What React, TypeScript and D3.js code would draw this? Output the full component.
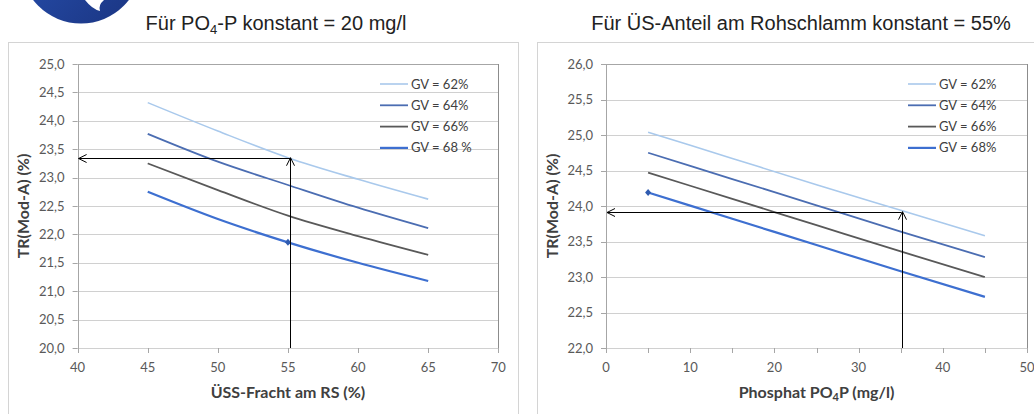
import React from 'react'
import * as d3 from 'd3'

// Left panel: TR over ÜSS-Fracht, PO4-P = 20 mg/l
const leftX = [45, 50, 55, 60, 65]
const leftGV62 = [24.32, 23.82, 23.35, 22.97, 22.62]
const leftGV64 = [23.77, 23.28, 22.87, 22.47, 22.11]
const leftGV66 = [23.25, 22.78, 22.33, 21.97, 21.64]
const leftGV68 = [22.75, 22.27, 21.86, 21.50, 21.18]
const leftMarker = [55, 21.86]
const leftArrow = [55.15, 23.35]

// Right panel: TR over Phosphat, ÜS-Anteil = 55%
const rightX = [5, 15, 25, 35, 45]
const rightGV62 = [25.04, 24.67, 24.30, 23.94, 23.58]
const rightGV64 = [24.75, 24.38, 24.01, 23.64, 23.28]
const rightGV66 = [24.47, 24.10, 23.73, 23.36, 23.00]
const rightGV68 = [24.19, 23.82, 23.45, 23.08, 22.72]
const rightMarker = [5, 24.19]
const rightArrow = [35.1, 23.92]

const leftLegend = ['GV = 62%', 'GV = 64%', 'GV = 66%', 'GV = 68 %']
const rightLegend = ['GV = 62%', 'GV = 64%', 'GV = 66%', 'GV = 68%']

const colors = ['#a9c9ec', '#4b6db2', '#595959', '#3d6fd0']
const widths = [1.6, 1.8, 1.8, 2.2]

const font = 'Lato, "Open Sans", sans-serif'

type PanelProps = {
  box: number[]
  plot: { l: number; r: number; t: number; b: number }
  xDomain: number[]
  yDomain: number[]
  xTicks: number[]
  xLabels: number[]
  xs: number[]
  series: number[][]
  legend: string[]
  legendX: number
  marker: number[]
  arrow: number[]
  yLabelX: number
  xLabel: React.ReactNode
}

const Panel = (p: PanelProps) => {
  const x = d3.scaleLinear().domain(p.xDomain).range([p.plot.l, p.plot.r])
  const y = d3.scaleLinear().domain(p.yDomain).range([p.plot.b, p.plot.t])
  const yTicks = d3.range(p.yDomain[0], p.yDomain[1] + 0.001, 0.5)
  const line = d3.line<number>()
    .x((_, i) => x(p.xs[i]))
    .y(d => y(d))
    .curve(d3.curveMonotoneX)

  const ax = x(p.arrow[0])
  const ay = y(p.arrow[1])
  const mx = x(p.marker[0])
  const my = y(p.marker[1])

  return (
    <g>
      <rect x={p.box[0] + 0.5} y={p.box[1] + 0.5} width={p.box[2]} height={p.box[3]}
        fill="#fff" stroke="#d4d4d4" />

      {yTicks.map((t, i) => (
        <g key={'y' + i}>
          <line x1={p.plot.l} x2={p.plot.r} y1={Math.round(y(t)) + 0.5} y2={Math.round(y(t)) + 0.5}
            stroke={i === yTicks.length - 1 ? '#a6a6a6' : '#d0d0d0'} />
          <line x1={p.plot.l - 5} x2={p.plot.l} y1={Math.round(y(t)) + 0.5} y2={Math.round(y(t)) + 0.5}
            stroke="#a6a6a6" />
          <text x={p.plot.l - 13} y={y(t)} dy="0.35em" textAnchor="end"
            fontFamily={font} fontSize={13} fill="#595959">
            {d3.format('.1f')(t).replace('.', ',')}
          </text>
        </g>
      ))}

      <line x1={Math.round(p.plot.l) + 0.5} x2={Math.round(p.plot.l) + 0.5} y1={p.plot.t} y2={p.plot.b}
        stroke="#a6a6a6" />
      <line x1={Math.round(p.plot.r) + 0.5} x2={Math.round(p.plot.r) + 0.5} y1={p.plot.t} y2={p.plot.b}
        stroke="#8c8c8c" />

      {p.xTicks.map((t, i) => (
        <line key={'xt' + i} x1={Math.round(x(t)) + 0.5} x2={Math.round(x(t)) + 0.5}
          y1={p.plot.b} y2={p.plot.b + 5} stroke="#a6a6a6" />
      ))}
      {p.xLabels.map((t, i) => (
        <text key={'xl' + i} x={x(t)} y={372} textAnchor="middle"
          fontFamily={font} fontSize={13} fill="#595959">{t}</text>
      ))}

      {p.series.map((s, i) => (
        <path key={'s' + i} d={line(s) || ''} fill="none" stroke={colors[i]} strokeWidth={widths[i]} />
      ))}

      <path d={`M${mx},${my - 3.5}L${mx + 3},${my}L${mx},${my + 3.5}L${mx - 3},${my}Z`} fill="#2f5bb0" />

      {/* reading arrows */}
      <line x1={ax} x2={p.plot.l + 1} y1={Math.round(ay) + 0.5} y2={Math.round(ay) + 0.5} stroke="#000" />
      <path d={`M${p.plot.l + 9},${Math.round(ay) - 3.5}L${p.plot.l + 1},${Math.round(ay) + 0.5}L${p.plot.l + 9},${Math.round(ay) + 4.5}`}
        fill="none" stroke="#000" />
      <line x1={Math.round(ax) + 0.5} x2={Math.round(ax) + 0.5} y1={p.plot.b} y2={ay} stroke="#000" />
      <path d={`M${Math.round(ax) - 3.5},${ay + 8}L${Math.round(ax) + 0.5},${ay}L${Math.round(ax) + 4.5},${ay + 8}`}
        fill="none" stroke="#000" />

      {p.legend.map((l, i) => (
        <g key={'lg' + i} transform={`translate(${p.legendX},${84 + i * 21.3})`}>
          <line x1={0} x2={28} y1={0} y2={0} stroke={colors[i]} strokeWidth={widths[i]} />
          <text x={31} y={0} dy="0.35em" fontFamily={font} fontSize={13} fill="#404040">{l}</text>
        </g>
      ))}

      <text transform={`translate(${p.yLabelX},${(p.plot.t + p.plot.b) / 2}) rotate(-90)`}
        textAnchor="middle" dy="0.35em" fontFamily={font} fontSize={16} fontWeight="bold" fill="#404040">
        TR(Mod-A) (%)
      </text>
      <text x={(p.plot.l + p.plot.r) / 2} y={398} textAnchor="middle"
        fontFamily={font} fontSize={16} fontWeight="bold" fill="#404040">
        {p.xLabel}
      </text>
    </g>
  )
}

const App = () => {
  return (
    <svg width={1034} height={414} style={{ position: 'absolute', left: 0, top: 0, background: '#fff' }}>
      <defs>
        <linearGradient id="logo" x1="0" y1="0" x2="1" y2="1">
          <stop offset="0" stopColor="#2a55b8" />
          <stop offset="1" stopColor="#1a3480" />
        </linearGradient>
      </defs>
      <circle cx={81} cy={-37} r={60.5} fill="url(#logo)" />
      <path d="M85,0 Q92,9 100,11 Q98,5 104,0 Z" fill="#fff" />

      <text x={276} y={30} textAnchor="middle" fontFamily="'Liberation Sans', Arial, sans-serif"
        fontSize={20} fill="#222">
        Für PO<tspan fontSize={13} dy={4}>4</tspan><tspan dy={-4}>-P konstant = 20 mg/l</tspan>
      </text>
      <text x={801} y={30} textAnchor="middle" fontFamily="'Liberation Sans', Arial, sans-serif"
        fontSize={20} fill="#222">
        Für ÜS-Anteil am Rohschlamm konstant = 55%
      </text>

      <Panel
        box={[8, 42, 510, 390]}
        plot={{ l: 77.6, r: 498.3, t: 64, b: 348 }}
        xDomain={[40, 70]}
        yDomain={[20, 25]}
        xTicks={d3.range(40, 71, 5)}
        xLabels={d3.range(40, 71, 5)}
        xs={leftX}
        series={[leftGV62, leftGV64, leftGV66, leftGV68]}
        legend={leftLegend}
        legendX={380}
        marker={leftMarker}
        arrow={leftArrow}
        yLabelX={23}
        xLabel="ÜSS-Fracht am RS (%)"
      />
      <Panel
        box={[537, 42, 510, 390]}
        plot={{ l: 606, r: 1027, t: 64, b: 348 }}
        xDomain={[0, 50]}
        yDomain={[22, 26]}
        xTicks={d3.range(0, 51, 5)}
        xLabels={d3.range(0, 51, 10)}
        xs={rightX}
        series={[rightGV62, rightGV64, rightGV66, rightGV68]}
        legend={rightLegend}
        legendX={908}
        marker={rightMarker}
        arrow={rightArrow}
        yLabelX={552}
        xLabel={<>Phosphat PO<tspan fontSize={11} dy={3}>4</tspan><tspan dy={-3}>P (mg/l)</tspan></>}
      />
    </svg>
  )
}

export default App
